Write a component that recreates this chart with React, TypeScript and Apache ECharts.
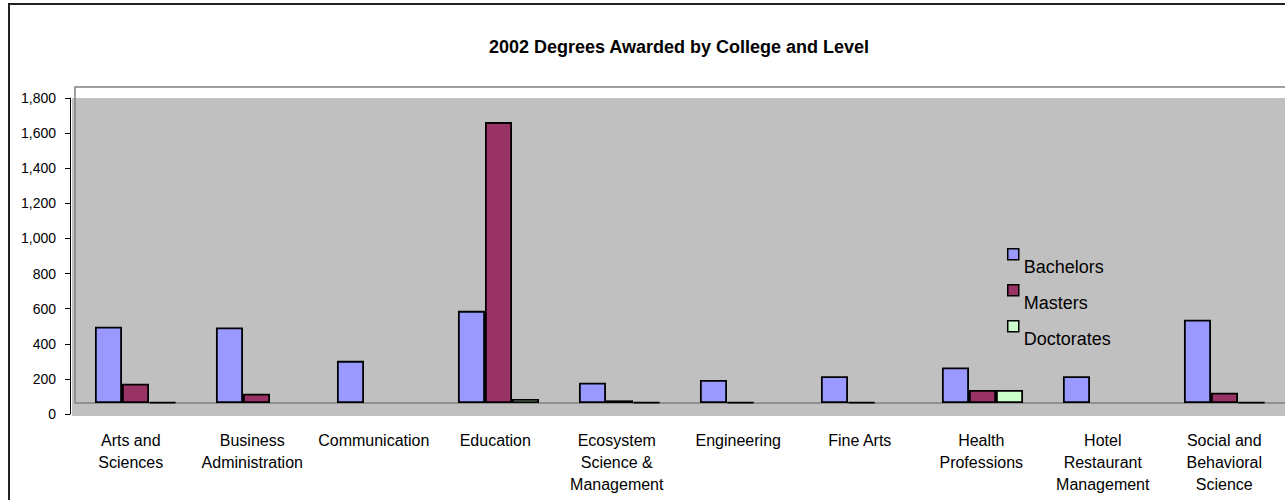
import React, { useEffect, useRef } from "react";
import * as echarts from "echarts";

const categories = [
  "Arts and\nSciences",
  "Business\nAdministration",
  "Communication",
  "Education",
  "Ecosystem\nScience &\nManagement",
  "Engineering",
  "Fine Arts",
  "Health\nProfessions",
  "Hotel\nRestaurant\nManagement",
  "Social and\nBehavioral\nScience",
];
const bachelors = [435, 430, 240, 525, 115, 131, 153, 202, 153, 474];
const masters = [110, 53, null, 1600, 15, 4, 4, 74, null, 59];
const doctorates = [5, null, null, 23, 4, null, null, 74, null, 4];
const seriesNames = ["Bachelors", "Masters", "Doctorates"];
const seriesColors = ["#9999FF", "#993366", "#CCFFCC"];
const titleText = "2002 Degrees Awarded by College and Level";

const FONT = "'Liberation Sans', Arial, sans-serif";
// square swatch at the top of a taller (invisible) box so the label sits below it
const LEGEND_ICON = "path://M0,0L11,0L11,11L0,11ZM0,36L0,36";

export default function App() {
  const ref = useRef<HTMLDivElement>(null);
  useEffect(() => {
    if (!ref.current) return;
    const chart = echarts.init(ref.current, null, { renderer: "svg" });
    const values = [bachelors, masters, doctorates];
    chart.setOption({
      animation: false,
      backgroundColor: "#ffffff",
      textStyle: { fontFamily: FONT },
      graphic: [
        {
          type: "rect",
          z: -10,
          silent: true,
          shape: { x: 9, y: 4, width: 1290, height: 510 },
          style: { fill: "none", stroke: "#222", lineWidth: 2 },
        },
        {
          type: "rect",
          z: -9,
          silent: true,
          shape: { x: 72, y: 98, width: 1215, height: 318 },
          style: { fill: "#C0C0C0", stroke: "none" },
        },
        {
          type: "polyline",
          z: -8,
          silent: true,
          shape: { points: [[1290, 87], [75, 87], [75, 403], [1290, 403]] },
          style: { fill: "none", stroke: "#808080", lineWidth: 1.5 },
        },
        {
          type: "text",
          x: 679,
          y: 47,
          style: {
            text: titleText,
            font: `bold 18px ${FONT}`,
            fill: "#000",
            align: "center",
            verticalAlign: "middle",
          },
        },
      ],
      legend: {
        data: seriesNames.map((n) => ({ name: n, icon: LEGEND_ICON })),
        orient: "vertical",
        left: 1007,
        top: 248,
        padding: 0,
        itemWidth: 11,
        itemHeight: 36,
        itemGap: -1.5,
        itemStyle: { borderColor: "#000", borderWidth: 1.5 },
        textStyle: {
          fontSize: 18,
          color: "#000",
          fontFamily: FONT,
        },
      },
      grid: [
        { left: 70, top: 98, width: 1220, height: 316 },
        { left: 75, top: 87, width: 1220, height: 316 },
      ],
      xAxis: [
        {
          type: "category",
          gridIndex: 0,
          data: categories,
          axisLine: { show: false },
          axisTick: { show: false },
          axisLabel: {
            interval: 0,
            margin: 16,
            fontSize: 16,
            lineHeight: 21.7,
            color: "#000",
            fontFamily: FONT,
          },
        },
        {
          type: "category",
          gridIndex: 1,
          data: categories,
          show: false,
        },
      ],
      yAxis: [
        {
          type: "value",
          gridIndex: 0,
          min: 0,
          max: 1800,
          interval: 200,
          axisLine: { show: true, lineStyle: { color: "#000", width: 1 } },
          axisTick: { show: true, length: 5, lineStyle: { color: "#000" } },
          splitLine: { show: false },
          axisLabel: {
            margin: 14,
            fontSize: 14,
            color: "#000",
            fontFamily: FONT,
            formatter: (v: number) => v.toLocaleString("en-US"),
          },
        },
        {
          type: "value",
          gridIndex: 1,
          min: 0,
          max: 1800,
          show: false,
        },
      ],
      series: seriesNames.map((name, i) => ({
        name,
        type: "bar",
        xAxisIndex: 1,
        yAxisIndex: 1,
        data: values[i],
        barGap: "0%",
        barCategoryGap: "33%",
        itemStyle: {
          color: seriesColors[i],
          borderColor: "#000",
          borderWidth: 1.8,
        },
      })),
    });
    return () => chart.dispose();
  }, []);
  return (
    <div
      ref={ref}
      style={{ position: "absolute", left: 0, top: 0, width: 1285, height: 500 }}
    />
  );
}
